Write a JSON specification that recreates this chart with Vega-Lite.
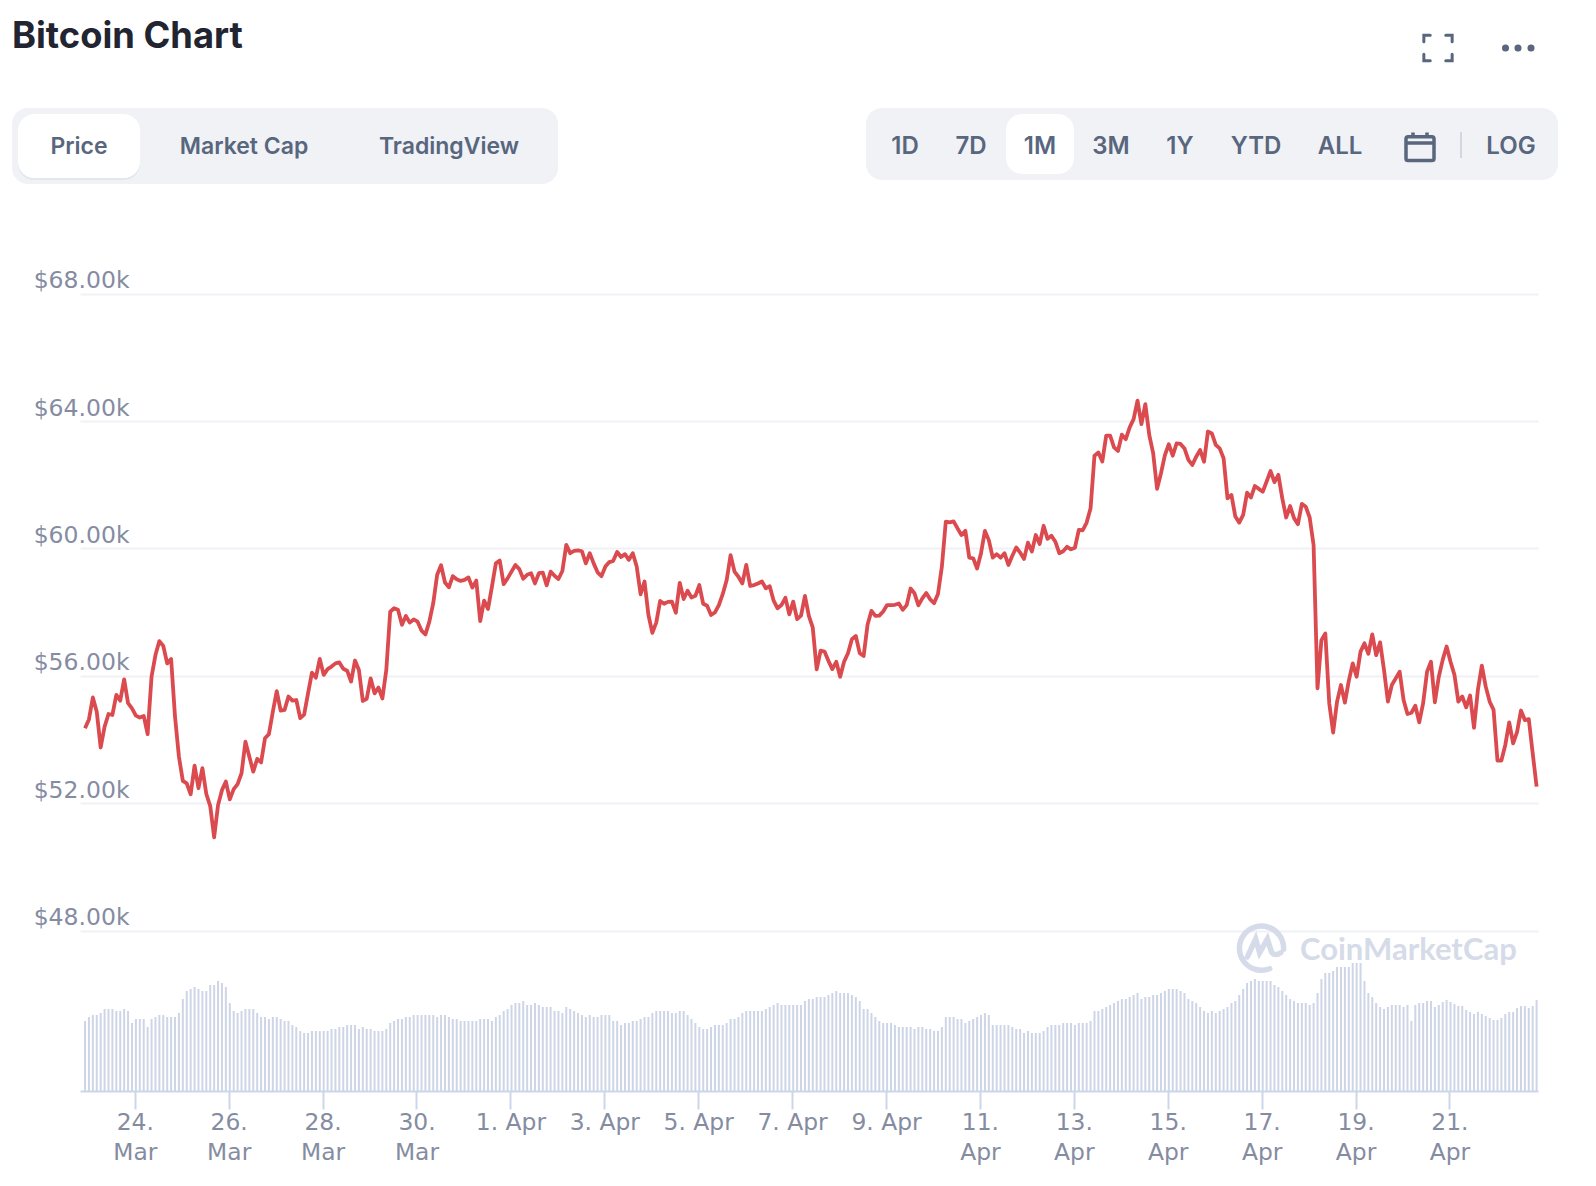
{
"$schema":"https://vega.github.io/schema/vega-lite/v6.json",
"width":1458,"height":798,"autosize":"none",
"padding":{"left":80,"top":293,"right":58,"bottom":95},
"background":"white","view":{"stroke":null},
"datasets":{
"ui":[
{"kind":"title","item":"Bitcoin Chart","col":1,"row":1},
{"kind":"panel","item":"chart type tabs","col":1,"col2":7,"row":2,"row2":10},
{"kind":"panel","item":"range buttons","col":8,"col2":27,"row":2,"row2":9},
{"kind":"shadow","item":"Price selected shadow","col":2,"col2":4,"row":3,"row2":9},
{"kind":"pill","item":"Price selected","col":2,"col2":4,"row":3,"row2":8},
{"kind":"pill","item":"1M selected","col":11,"col2":13,"row":3,"row2":7},
{"kind":"tab","item":"Price","col":3,"row":5},
{"kind":"tab","item":"Market Cap","col":5,"row":5},
{"kind":"tab","item":"TradingView","col":6,"row":5},
{"kind":"button","item":"1D","col":9,"row":5},
{"kind":"button","item":"7D","col":10,"row":5},
{"kind":"button","item":"1M","col":12,"row":5},
{"kind":"button","item":"3M","col":14,"row":5},
{"kind":"button","item":"1Y","col":15,"row":5},
{"kind":"button","item":"YTD","col":16,"row":5},
{"kind":"button","item":"ALL","col":19,"row":5},
{"kind":"button","item":"LOG","col":24,"row":5},
{"kind":"calendar","item":"calendar","col":20,"row":5},
{"kind":"separator","item":"separator","col":22,"row":4,"row2":6},
{"kind":"fullscreen","item":"fullscreen","col":21,"row":1},
{"kind":"dot","item":"menu","col":23,"row":1},
{"kind":"dot","item":"menu","col":25,"row":1},
{"kind":"dot","item":"menu","col":26,"row":1},
{"kind":"logo","item":"logo","col":17,"row":11},
{"kind":"wordmark","item":"CoinMarketCap","col":18,"row":12}
],
"chart":[
{"t":"2021-03-22T22:34Z","p":54350,"v":70},
{"t":"2021-03-23T00:34Z","p":54630,"v":74},
{"t":"2021-03-23T02:34Z","p":55320,"v":76},
{"t":"2021-03-23T04:34Z","p":54870,"v":76},
{"t":"2021-03-23T06:34Z","p":53750,"v":78},
{"t":"2021-03-23T08:34Z","p":54400,"v":82},
{"t":"2021-03-23T10:34Z","p":54800,"v":82},
{"t":"2021-03-23T12:34Z","p":54770,"v":82},
{"t":"2021-03-23T14:34Z","p":55400,"v":80},
{"t":"2021-03-23T16:34Z","p":55220,"v":80},
{"t":"2021-03-23T18:34Z","p":55890,"v":82},
{"t":"2021-03-23T20:34Z","p":55140,"v":80},
{"t":"2021-03-23T22:34Z","p":54980,"v":68},
{"t":"2021-03-24T00:34Z","p":54750,"v":72},
{"t":"2021-03-24T02:34Z","p":54690,"v":72},
{"t":"2021-03-24T04:34Z","p":54740,"v":72},
{"t":"2021-03-24T06:34Z","p":54170,"v":64},
{"t":"2021-03-24T08:34Z","p":55970,"v":72},
{"t":"2021-03-24T10:34Z","p":56650,"v":74},
{"t":"2021-03-24T12:34Z","p":57090,"v":76},
{"t":"2021-03-24T14:34Z","p":56940,"v":76},
{"t":"2021-03-24T16:34Z","p":56390,"v":74},
{"t":"2021-03-24T18:34Z","p":56530,"v":74},
{"t":"2021-03-24T20:34Z","p":54720,"v":74},
{"t":"2021-03-24T22:34Z","p":53460,"v":78},
{"t":"2021-03-25T00:34Z","p":52700,"v":92},
{"t":"2021-03-25T02:34Z","p":52620,"v":100},
{"t":"2021-03-25T04:34Z","p":52280,"v":102},
{"t":"2021-03-25T06:34Z","p":53180,"v":104},
{"t":"2021-03-25T08:34Z","p":52470,"v":102},
{"t":"2021-03-25T10:34Z","p":53100,"v":100},
{"t":"2021-03-25T12:34Z","p":52290,"v":100},
{"t":"2021-03-25T14:34Z","p":51910,"v":106},
{"t":"2021-03-25T16:34Z","p":50930,"v":106},
{"t":"2021-03-25T18:34Z","p":51940,"v":110},
{"t":"2021-03-25T20:34Z","p":52410,"v":108},
{"t":"2021-03-25T22:34Z","p":52680,"v":104},
{"t":"2021-03-26T00:34Z","p":52120,"v":88},
{"t":"2021-03-26T02:34Z","p":52440,"v":80},
{"t":"2021-03-26T04:34Z","p":52600,"v":78},
{"t":"2021-03-26T06:34Z","p":52940,"v":80},
{"t":"2021-03-26T08:34Z","p":53930,"v":82},
{"t":"2021-03-26T10:34Z","p":53460,"v":82},
{"t":"2021-03-26T12:34Z","p":52990,"v":82},
{"t":"2021-03-26T14:34Z","p":53390,"v":78},
{"t":"2021-03-26T16:34Z","p":53280,"v":74},
{"t":"2021-03-26T18:34Z","p":54040,"v":74},
{"t":"2021-03-26T20:34Z","p":54170,"v":72},
{"t":"2021-03-26T22:34Z","p":54870,"v":74},
{"t":"2021-03-27T00:34Z","p":55520,"v":74},
{"t":"2021-03-27T02:34Z","p":54910,"v":72},
{"t":"2021-03-27T04:34Z","p":54930,"v":70},
{"t":"2021-03-27T06:34Z","p":55350,"v":70},
{"t":"2021-03-27T08:34Z","p":55220,"v":66},
{"t":"2021-03-27T10:34Z","p":55240,"v":64},
{"t":"2021-03-27T12:34Z","p":54670,"v":60},
{"t":"2021-03-27T14:34Z","p":54780,"v":58},
{"t":"2021-03-27T16:34Z","p":55450,"v":58},
{"t":"2021-03-27T18:34Z","p":56100,"v":60},
{"t":"2021-03-27T20:34Z","p":55940,"v":60},
{"t":"2021-03-27T22:34Z","p":56530,"v":60},
{"t":"2021-03-28T00:34Z","p":56030,"v":60},
{"t":"2021-03-28T02:34Z","p":56210,"v":60},
{"t":"2021-03-28T04:34Z","p":56290,"v":62},
{"t":"2021-03-28T06:34Z","p":56390,"v":62},
{"t":"2021-03-28T08:34Z","p":56420,"v":64},
{"t":"2021-03-28T10:34Z","p":56220,"v":64},
{"t":"2021-03-28T12:34Z","p":56160,"v":66},
{"t":"2021-03-28T14:34Z","p":55820,"v":66},
{"t":"2021-03-28T16:34Z","p":56480,"v":66},
{"t":"2021-03-28T18:34Z","p":56180,"v":62},
{"t":"2021-03-28T20:34Z","p":55210,"v":64},
{"t":"2021-03-28T22:34Z","p":55280,"v":62},
{"t":"2021-03-29T00:34Z","p":55920,"v":62},
{"t":"2021-03-29T02:34Z","p":55450,"v":60},
{"t":"2021-03-29T04:34Z","p":55630,"v":60},
{"t":"2021-03-29T06:34Z","p":55290,"v":60},
{"t":"2021-03-29T08:34Z","p":56180,"v":62},
{"t":"2021-03-29T10:34Z","p":58010,"v":68},
{"t":"2021-03-29T12:34Z","p":58120,"v":70},
{"t":"2021-03-29T14:34Z","p":58070,"v":72},
{"t":"2021-03-29T16:34Z","p":57600,"v":72},
{"t":"2021-03-29T18:34Z","p":57880,"v":74},
{"t":"2021-03-29T20:34Z","p":57670,"v":74},
{"t":"2021-03-29T22:34Z","p":57770,"v":76},
{"t":"2021-03-30T00:34Z","p":57700,"v":76},
{"t":"2021-03-30T02:34Z","p":57420,"v":76},
{"t":"2021-03-30T04:34Z","p":57300,"v":76},
{"t":"2021-03-30T06:34Z","p":57700,"v":76},
{"t":"2021-03-30T08:34Z","p":58280,"v":76},
{"t":"2021-03-30T10:34Z","p":59170,"v":74},
{"t":"2021-03-30T12:34Z","p":59470,"v":76},
{"t":"2021-03-30T14:34Z","p":58930,"v":76},
{"t":"2021-03-30T16:34Z","p":58780,"v":74},
{"t":"2021-03-30T18:34Z","p":59130,"v":72},
{"t":"2021-03-30T20:34Z","p":59030,"v":72},
{"t":"2021-03-30T22:34Z","p":58980,"v":70},
{"t":"2021-03-31T00:34Z","p":59010,"v":70},
{"t":"2021-03-31T02:34Z","p":59090,"v":70},
{"t":"2021-03-31T04:34Z","p":58770,"v":70},
{"t":"2021-03-31T06:34Z","p":58990,"v":70},
{"t":"2021-03-31T08:34Z","p":57720,"v":72},
{"t":"2021-03-31T10:34Z","p":58360,"v":72},
{"t":"2021-03-31T12:34Z","p":58100,"v":72},
{"t":"2021-03-31T14:34Z","p":58800,"v":70},
{"t":"2021-03-31T16:34Z","p":59530,"v":74},
{"t":"2021-03-31T18:34Z","p":59620,"v":76},
{"t":"2021-03-31T20:34Z","p":58880,"v":80},
{"t":"2021-03-31T22:34Z","p":59060,"v":82},
{"t":"2021-04-01T00:34Z","p":59270,"v":86},
{"t":"2021-04-01T02:34Z","p":59480,"v":88},
{"t":"2021-04-01T04:34Z","p":59350,"v":88},
{"t":"2021-04-01T06:34Z","p":59050,"v":90},
{"t":"2021-04-01T08:34Z","p":59170,"v":86},
{"t":"2021-04-01T10:34Z","p":59220,"v":86},
{"t":"2021-04-01T12:34Z","p":58900,"v":88},
{"t":"2021-04-01T14:34Z","p":59220,"v":86},
{"t":"2021-04-01T16:34Z","p":59240,"v":84},
{"t":"2021-04-01T18:34Z","p":58840,"v":84},
{"t":"2021-04-01T20:34Z","p":59270,"v":84},
{"t":"2021-04-01T22:34Z","p":59140,"v":80},
{"t":"2021-04-02T00:34Z","p":59040,"v":80},
{"t":"2021-04-02T02:34Z","p":59290,"v":78},
{"t":"2021-04-02T04:34Z","p":60110,"v":84},
{"t":"2021-04-02T06:34Z","p":59850,"v":82},
{"t":"2021-04-02T08:34Z","p":59920,"v":80},
{"t":"2021-04-02T10:34Z","p":59940,"v":78},
{"t":"2021-04-02T12:34Z","p":59910,"v":76},
{"t":"2021-04-02T14:34Z","p":59530,"v":74},
{"t":"2021-04-02T16:34Z","p":59850,"v":76},
{"t":"2021-04-02T18:34Z","p":59530,"v":74},
{"t":"2021-04-02T20:34Z","p":59250,"v":74},
{"t":"2021-04-02T22:34Z","p":59130,"v":76},
{"t":"2021-04-03T00:34Z","p":59430,"v":76},
{"t":"2021-04-03T02:34Z","p":59570,"v":76},
{"t":"2021-04-03T04:34Z","p":59610,"v":70},
{"t":"2021-04-03T06:34Z","p":59890,"v":70},
{"t":"2021-04-03T08:34Z","p":59730,"v":66},
{"t":"2021-04-03T10:34Z","p":59820,"v":68},
{"t":"2021-04-03T12:34Z","p":59640,"v":68},
{"t":"2021-04-03T14:34Z","p":59850,"v":70},
{"t":"2021-04-03T16:34Z","p":59430,"v":70},
{"t":"2021-04-03T18:34Z","p":58560,"v":72},
{"t":"2021-04-03T20:34Z","p":58960,"v":74},
{"t":"2021-04-03T22:34Z","p":57910,"v":74},
{"t":"2021-04-04T00:34Z","p":57350,"v":78},
{"t":"2021-04-04T02:34Z","p":57670,"v":80},
{"t":"2021-04-04T04:34Z","p":58350,"v":80},
{"t":"2021-04-04T06:34Z","p":58260,"v":80},
{"t":"2021-04-04T08:34Z","p":58320,"v":80},
{"t":"2021-04-04T10:34Z","p":58330,"v":78},
{"t":"2021-04-04T12:34Z","p":57980,"v":78},
{"t":"2021-04-04T14:34Z","p":58920,"v":80},
{"t":"2021-04-04T16:34Z","p":58410,"v":80},
{"t":"2021-04-04T18:34Z","p":58670,"v":76},
{"t":"2021-04-04T20:34Z","p":58460,"v":72},
{"t":"2021-04-04T22:34Z","p":58510,"v":68},
{"t":"2021-04-05T00:34Z","p":58850,"v":64},
{"t":"2021-04-05T02:34Z","p":58260,"v":62},
{"t":"2021-04-05T04:34Z","p":58200,"v":62},
{"t":"2021-04-05T06:34Z","p":57910,"v":64},
{"t":"2021-04-05T08:34Z","p":57990,"v":66},
{"t":"2021-04-05T10:34Z","p":58220,"v":66},
{"t":"2021-04-05T12:34Z","p":58570,"v":66},
{"t":"2021-04-05T14:34Z","p":59010,"v":68},
{"t":"2021-04-05T16:34Z","p":59790,"v":72},
{"t":"2021-04-05T18:34Z","p":59270,"v":72},
{"t":"2021-04-05T20:34Z","p":59110,"v":74},
{"t":"2021-04-05T22:34Z","p":58900,"v":78},
{"t":"2021-04-06T00:34Z","p":59480,"v":80},
{"t":"2021-04-06T02:34Z","p":58820,"v":80},
{"t":"2021-04-06T04:34Z","p":58850,"v":80},
{"t":"2021-04-06T06:34Z","p":58900,"v":80},
{"t":"2021-04-06T08:34Z","p":58960,"v":80},
{"t":"2021-04-06T10:34Z","p":58750,"v":82},
{"t":"2021-04-06T12:34Z","p":58810,"v":84},
{"t":"2021-04-06T14:34Z","p":58360,"v":86},
{"t":"2021-04-06T16:34Z","p":58120,"v":88},
{"t":"2021-04-06T18:34Z","p":58220,"v":86},
{"t":"2021-04-06T20:34Z","p":58450,"v":86},
{"t":"2021-04-06T22:34Z","p":57930,"v":86},
{"t":"2021-04-07T00:34Z","p":58330,"v":86},
{"t":"2021-04-07T02:34Z","p":57780,"v":86},
{"t":"2021-04-07T04:34Z","p":57890,"v":86},
{"t":"2021-04-07T06:34Z","p":58510,"v":90},
{"t":"2021-04-07T08:34Z","p":57880,"v":92},
{"t":"2021-04-07T10:34Z","p":57510,"v":92},
{"t":"2021-04-07T12:34Z","p":56200,"v":94},
{"t":"2021-04-07T14:34Z","p":56790,"v":94},
{"t":"2021-04-07T16:34Z","p":56760,"v":94},
{"t":"2021-04-07T18:34Z","p":56470,"v":96},
{"t":"2021-04-07T20:34Z","p":56210,"v":98},
{"t":"2021-04-07T22:34Z","p":56440,"v":100},
{"t":"2021-04-08T00:34Z","p":55970,"v":98},
{"t":"2021-04-08T02:34Z","p":56440,"v":98},
{"t":"2021-04-08T04:34Z","p":56710,"v":98},
{"t":"2021-04-08T06:34Z","p":57150,"v":96},
{"t":"2021-04-08T08:34Z","p":57250,"v":94},
{"t":"2021-04-08T10:34Z","p":56710,"v":90},
{"t":"2021-04-08T12:34Z","p":56620,"v":82},
{"t":"2021-04-08T14:34Z","p":57600,"v":82},
{"t":"2021-04-08T16:34Z","p":58040,"v":78},
{"t":"2021-04-08T18:34Z","p":57880,"v":74},
{"t":"2021-04-08T20:34Z","p":57890,"v":70},
{"t":"2021-04-08T22:34Z","p":58020,"v":68},
{"t":"2021-04-09T00:34Z","p":58220,"v":68},
{"t":"2021-04-09T02:34Z","p":58220,"v":68},
{"t":"2021-04-09T04:34Z","p":58230,"v":66},
{"t":"2021-04-09T06:34Z","p":58270,"v":64},
{"t":"2021-04-09T08:34Z","p":58070,"v":64},
{"t":"2021-04-09T10:34Z","p":58220,"v":64},
{"t":"2021-04-09T12:34Z","p":58740,"v":64},
{"t":"2021-04-09T14:34Z","p":58590,"v":62},
{"t":"2021-04-09T16:34Z","p":58210,"v":64},
{"t":"2021-04-09T18:34Z","p":58430,"v":64},
{"t":"2021-04-09T20:34Z","p":58600,"v":62},
{"t":"2021-04-09T22:34Z","p":58400,"v":62},
{"t":"2021-04-10T00:34Z","p":58280,"v":60},
{"t":"2021-04-10T02:34Z","p":58570,"v":60},
{"t":"2021-04-10T04:34Z","p":59430,"v":64},
{"t":"2021-04-10T06:34Z","p":60840,"v":74},
{"t":"2021-04-10T08:34Z","p":60820,"v":74},
{"t":"2021-04-10T10:34Z","p":60850,"v":74},
{"t":"2021-04-10T12:34Z","p":60630,"v":72},
{"t":"2021-04-10T14:34Z","p":60420,"v":72},
{"t":"2021-04-10T16:34Z","p":60550,"v":68},
{"t":"2021-04-10T18:34Z","p":59710,"v":70},
{"t":"2021-04-10T20:34Z","p":59690,"v":72},
{"t":"2021-04-10T22:34Z","p":59370,"v":74},
{"t":"2021-04-11T00:34Z","p":59850,"v":76},
{"t":"2021-04-11T02:34Z","p":60550,"v":78},
{"t":"2021-04-11T04:34Z","p":60260,"v":76},
{"t":"2021-04-11T06:34Z","p":59710,"v":66},
{"t":"2021-04-11T08:34Z","p":59820,"v":66},
{"t":"2021-04-11T10:34Z","p":59710,"v":66},
{"t":"2021-04-11T12:34Z","p":59850,"v":66},
{"t":"2021-04-11T14:34Z","p":59480,"v":66},
{"t":"2021-04-11T16:34Z","p":59770,"v":64},
{"t":"2021-04-11T18:34Z","p":60030,"v":62},
{"t":"2021-04-11T20:34Z","p":59870,"v":62},
{"t":"2021-04-11T22:34Z","p":59670,"v":58},
{"t":"2021-04-12T00:34Z","p":60180,"v":60},
{"t":"2021-04-12T02:34Z","p":59900,"v":58},
{"t":"2021-04-12T04:34Z","p":60420,"v":58},
{"t":"2021-04-12T06:34Z","p":60140,"v":58},
{"t":"2021-04-12T08:34Z","p":60710,"v":60},
{"t":"2021-04-12T10:34Z","p":60300,"v":64},
{"t":"2021-04-12T12:34Z","p":60400,"v":66},
{"t":"2021-04-12T14:34Z","p":60210,"v":66},
{"t":"2021-04-12T16:34Z","p":59850,"v":66},
{"t":"2021-04-12T18:34Z","p":59910,"v":68},
{"t":"2021-04-12T20:34Z","p":60050,"v":68},
{"t":"2021-04-12T22:34Z","p":59970,"v":68},
{"t":"2021-04-13T00:34Z","p":60020,"v":66},
{"t":"2021-04-13T02:34Z","p":60580,"v":68},
{"t":"2021-04-13T04:34Z","p":60570,"v":68},
{"t":"2021-04-13T06:34Z","p":60810,"v":68},
{"t":"2021-04-13T08:34Z","p":61260,"v":70},
{"t":"2021-04-13T10:34Z","p":62910,"v":80},
{"t":"2021-04-13T12:34Z","p":63010,"v":80},
{"t":"2021-04-13T14:34Z","p":62730,"v":82},
{"t":"2021-04-13T16:34Z","p":63540,"v":84},
{"t":"2021-04-13T18:34Z","p":63540,"v":86},
{"t":"2021-04-13T20:34Z","p":63170,"v":88},
{"t":"2021-04-13T22:34Z","p":63060,"v":90},
{"t":"2021-04-14T00:34Z","p":63570,"v":92},
{"t":"2021-04-14T02:34Z","p":63430,"v":92},
{"t":"2021-04-14T04:34Z","p":63800,"v":94},
{"t":"2021-04-14T06:34Z","p":64060,"v":96},
{"t":"2021-04-14T08:34Z","p":64640,"v":98},
{"t":"2021-04-14T10:34Z","p":63900,"v":92},
{"t":"2021-04-14T12:34Z","p":64530,"v":94},
{"t":"2021-04-14T14:34Z","p":63560,"v":94},
{"t":"2021-04-14T16:34Z","p":62990,"v":96},
{"t":"2021-04-14T18:34Z","p":61870,"v":96},
{"t":"2021-04-14T20:34Z","p":62360,"v":98},
{"t":"2021-04-14T22:34Z","p":62930,"v":100},
{"t":"2021-04-15T00:34Z","p":63270,"v":102},
{"t":"2021-04-15T02:34Z","p":62910,"v":102},
{"t":"2021-04-15T04:34Z","p":63300,"v":102},
{"t":"2021-04-15T06:34Z","p":63280,"v":100},
{"t":"2021-04-15T08:34Z","p":63140,"v":98},
{"t":"2021-04-15T10:34Z","p":62780,"v":92},
{"t":"2021-04-15T12:34Z","p":62620,"v":90},
{"t":"2021-04-15T14:34Z","p":62880,"v":88},
{"t":"2021-04-15T16:34Z","p":63090,"v":84},
{"t":"2021-04-15T18:34Z","p":62720,"v":80},
{"t":"2021-04-15T20:34Z","p":63670,"v":78},
{"t":"2021-04-15T22:34Z","p":63610,"v":80},
{"t":"2021-04-16T00:34Z","p":63250,"v":78},
{"t":"2021-04-16T02:34Z","p":63140,"v":80},
{"t":"2021-04-16T04:34Z","p":62830,"v":82},
{"t":"2021-04-16T06:34Z","p":61570,"v":84},
{"t":"2021-04-16T08:34Z","p":61680,"v":88},
{"t":"2021-04-16T10:34Z","p":61000,"v":90},
{"t":"2021-04-16T12:34Z","p":60810,"v":96},
{"t":"2021-04-16T14:34Z","p":61050,"v":102},
{"t":"2021-04-16T16:34Z","p":61750,"v":108},
{"t":"2021-04-16T18:34Z","p":61600,"v":110},
{"t":"2021-04-16T20:34Z","p":61960,"v":112},
{"t":"2021-04-16T22:34Z","p":61870,"v":110},
{"t":"2021-04-17T00:34Z","p":61780,"v":110},
{"t":"2021-04-17T02:34Z","p":62100,"v":110},
{"t":"2021-04-17T04:34Z","p":62430,"v":110},
{"t":"2021-04-17T06:34Z","p":62080,"v":106},
{"t":"2021-04-17T08:34Z","p":62310,"v":104},
{"t":"2021-04-17T10:34Z","p":61570,"v":100},
{"t":"2021-04-17T12:34Z","p":60970,"v":96},
{"t":"2021-04-17T14:34Z","p":61330,"v":92},
{"t":"2021-04-17T16:34Z","p":60950,"v":90},
{"t":"2021-04-17T18:34Z","p":60760,"v":88},
{"t":"2021-04-17T20:34Z","p":61400,"v":88},
{"t":"2021-04-17T22:34Z","p":61310,"v":88},
{"t":"2021-04-18T00:34Z","p":60970,"v":86},
{"t":"2021-04-18T02:34Z","p":60110,"v":88},
{"t":"2021-04-18T04:34Z","p":55610,"v":98},
{"t":"2021-04-18T06:34Z","p":57120,"v":112},
{"t":"2021-04-18T08:34Z","p":57330,"v":118},
{"t":"2021-04-18T10:34Z","p":55140,"v":118},
{"t":"2021-04-18T12:34Z","p":54220,"v":120},
{"t":"2021-04-18T14:34Z","p":55190,"v":124},
{"t":"2021-04-18T16:34Z","p":55710,"v":124},
{"t":"2021-04-18T18:34Z","p":55160,"v":124},
{"t":"2021-04-18T20:34Z","p":55840,"v":124},
{"t":"2021-04-18T22:34Z","p":56390,"v":128},
{"t":"2021-04-19T00:34Z","p":55970,"v":128},
{"t":"2021-04-19T02:34Z","p":56760,"v":128},
{"t":"2021-04-19T04:34Z","p":57020,"v":110},
{"t":"2021-04-19T06:34Z","p":56690,"v":98},
{"t":"2021-04-19T08:34Z","p":57300,"v":94},
{"t":"2021-04-19T10:34Z","p":56650,"v":88},
{"t":"2021-04-19T12:34Z","p":57050,"v":84},
{"t":"2021-04-19T14:34Z","p":56180,"v":82},
{"t":"2021-04-19T16:34Z","p":55190,"v":84},
{"t":"2021-04-19T18:34Z","p":55710,"v":86},
{"t":"2021-04-19T20:34Z","p":55920,"v":86},
{"t":"2021-04-19T22:34Z","p":56130,"v":86},
{"t":"2021-04-20T00:34Z","p":55240,"v":84},
{"t":"2021-04-20T02:34Z","p":54800,"v":86},
{"t":"2021-04-20T04:34Z","p":54840,"v":70},
{"t":"2021-04-20T06:34Z","p":55060,"v":86},
{"t":"2021-04-20T08:34Z","p":54540,"v":88},
{"t":"2021-04-20T10:34Z","p":55140,"v":88},
{"t":"2021-04-20T12:34Z","p":56130,"v":90},
{"t":"2021-04-20T14:34Z","p":56440,"v":90},
{"t":"2021-04-20T16:34Z","p":55170,"v":84},
{"t":"2021-04-20T18:34Z","p":55970,"v":86},
{"t":"2021-04-20T20:34Z","p":56500,"v":89},
{"t":"2021-04-20T22:34Z","p":56920,"v":91},
{"t":"2021-04-21T00:34Z","p":56440,"v":89},
{"t":"2021-04-21T02:34Z","p":56030,"v":87},
{"t":"2021-04-21T04:34Z","p":55190,"v":85},
{"t":"2021-04-21T06:34Z","p":55350,"v":85},
{"t":"2021-04-21T08:34Z","p":55010,"v":81},
{"t":"2021-04-21T10:34Z","p":55380,"v":79},
{"t":"2021-04-21T12:34Z","p":54370,"v":77},
{"t":"2021-04-21T14:34Z","p":55560,"v":79},
{"t":"2021-04-21T16:34Z","p":56320,"v":77},
{"t":"2021-04-21T18:34Z","p":55660,"v":75},
{"t":"2021-04-21T20:34Z","p":55190,"v":73},
{"t":"2021-04-21T22:34Z","p":54930,"v":71},
{"t":"2021-04-22T00:34Z","p":53340,"v":71},
{"t":"2021-04-22T02:34Z","p":53340,"v":73},
{"t":"2021-04-22T04:34Z","p":53830,"v":77},
{"t":"2021-04-22T06:34Z","p":54540,"v":79},
{"t":"2021-04-22T08:34Z","p":53880,"v":79},
{"t":"2021-04-22T10:34Z","p":54230,"v":83},
{"t":"2021-04-22T12:34Z","p":54910,"v":85},
{"t":"2021-04-22T14:34Z","p":54610,"v":85},
{"t":"2021-04-22T16:34Z","p":54640,"v":83},
{"t":"2021-04-22T18:34Z","p":53570,"v":85},
{"t":"2021-04-22T20:34Z","p":52520,"v":91}
]},
"resolve":{"scale":{"x":"independent","y":"independent"}},
"layer":[
{
"data":{"name":"chart"},
"mark":{"type":"bar","size":2,"color":"#cdd5e6"},
"encoding":{
"x":{"field":"t","type":"temporal","axis":null,"scale":{"type":"utc","padding":0,"domain":[1616443200000,1619126208000]}},
"y":{"field":"v","type":"quantitative","axis":null,"stack":null,"scale":{"domain":[0,798],"nice":false}}
}
},
{
"data":{"name":"chart"},
"mark":{"type":"line","color":"#da4a4e","strokeWidth":3.8,"strokeJoin":"round"},
"encoding":{
"x":{"field":"t","type":"temporal","title":null,
"scale":{"type":"utc","domain":[1616443200000,1619126208000]},
"axis":{"values":[1616544000000,1616716800000,1616889600000,1617062400000,1617235200000,1617408000000,1617580800000,1617753600000,1617926400000,1618099200000,1618272000000,1618444800000,1618617600000,1618790400000,1618963200000],
"labelExpr":"utcmonth(datum.value)==2 ? [utcdate(datum.value)+'.','Mar'] : utcdate(datum.value)<10 ? utcdate(datum.value)+'. Apr' : [utcdate(datum.value)+'.','Apr']",
"grid":false,"domainColor":"#ccd6eb","domainWidth":2,"tickColor":"#ccd6eb","tickWidth":2,"tickSize":18,
"labelFont":"DejaVu Sans","labelFontSize":23.4,"labelColor":"#858ca2","labelPadding":2,"labelLineHeight":30,"labelOverlap":false,"labelFlush":false,"labelBound":false}},
"y":{"field":"p","type":"quantitative","title":null,
"scale":{"domain":[42964,68019],"nice":false,"zero":false},
"axis":{"values":[48000,52000,56000,60000,64000,68000],
"labelExpr":"'$'+format(datum.value/1000,'.2f')+'k'",
"grid":true,"gridColor":"#f0f1f6","gridWidth":2,"domain":false,"ticks":false,
"labelFont":"DejaVu Sans","labelFontSize":23.5,"labelColor":"#858ca2","labelAlign":"right","labelBaseline":"bottom","labelPadding":-49,"labelOffset":-1,"labelOverlap":false,"labelBound":false}}
}
},
{
"data":{"name":"ui"},
"encoding":{
"x":{"field":"col","type":"quantitative","axis":null,
"scale":{"zero":false,"nice":false,
"domain":[1,2,3,4,5,6,7,8,9,10,11,12,13,14,15,16,17,18,19,20,21,22,23,24,25,26,27],
"range":[-68,-62,-1,60,164,369,478,786,825,891,926,960,994,1031,1100,1176,1181.5,1220,1260,1340,1358,1381,1425.5,1431,1438,1451,1478]}},
"y":{"field":"row","type":"quantitative","axis":null,
"scale":{"zero":false,"nice":false,
"domain":[1,2,3,4,5,6,7,8,9,10,11,12],
"range":[-245,-185,-179,-161,-146.5,-135,-119,-115,-113,-109,655,667]}}
},
"layer":[
{"transform":[{"filter":"datum.kind=='panel'"}],"mark":{"type":"rect","color":"#f0f2f6","cornerRadius":16},"encoding":{"x2":{"field":"col2"},"y2":{"field":"row2"}}},
{"transform":[{"filter":"datum.kind=='shadow'"}],"mark":{"type":"rect","color":"#e3e6ed","cornerRadius":16},"encoding":{"x2":{"field":"col2"},"y2":{"field":"row2"}}},
{"transform":[{"filter":"datum.kind=='pill'"}],"mark":{"type":"rect","color":"#ffffff","cornerRadius":16},"encoding":{"x2":{"field":"col2"},"y2":{"field":"row2"}}},
{"transform":[{"filter":"datum.kind=='title'"}],"mark":{"type":"text","font":"Inter","fontSize":36.3,"fontWeight":700,"color":"#222531","align":"left","baseline":"alphabetic"},"encoding":{"text":{"field":"item"}}},
{"transform":[{"filter":"datum.kind=='tab'"}],"mark":{"type":"text","font":"Inter","fontSize":23,"fontWeight":600,"color":"#58667e","align":"center","baseline":"middle"},"encoding":{"text":{"field":"item"}}},
{"transform":[{"filter":"datum.kind=='button'"}],"mark":{"type":"text","font":"Inter","fontSize":24,"fontWeight":600,"color":"#58667e","align":"center","baseline":"middle"},"encoding":{"text":{"field":"item"}}},
{"transform":[{"filter":"datum.kind=='separator'"}],"mark":{"type":"rule","color":"#cfd6e4","strokeWidth":2},"encoding":{"y2":{"field":"row2"}}},
{"transform":[{"filter":"datum.kind=='calendar'"}],"mark":{"type":"point","filled":false,"stroke":"#58667e","strokeWidth":3.5,"size":784,"opacity":1,"shape":"M-0.85,-0.7 H0.85 Q1,-0.7 1,-0.55 V0.85 Q1,1 0.85,1 H-0.85 Q-1,1 -1,0.85 V-0.55 Q-1,-0.7 -0.85,-0.7 Z M-1,-0.25 H1 M-0.5,-1 V-0.7 M0.5,-1 V-0.7"}},
{"transform":[{"filter":"datum.kind=='fullscreen'"}],"mark":{"type":"point","filled":false,"stroke":"#58667e","strokeWidth":3,"strokeCap":"round","size":800,"opacity":1,"shape":"M-1,-0.45 V-0.9 H-0.55 M0.55,-0.9 H1 V-0.45 M1,0.45 V0.9 H0.55 M-0.55,0.9 H-1 V0.45"}},
{"transform":[{"filter":"datum.kind=='dot'"}],"mark":{"type":"point","filled":true,"color":"#58667e","size":50,"opacity":1,"shape":"circle"}},
{"transform":[{"filter":"datum.kind=='logo'"}],"mark":{"type":"point","filled":false,"stroke":"#d5dbe8","strokeWidth":5.5,"strokeCap":"round","size":2209,"opacity":1,"shape":"M0.35,0.88 A0.94,0.94 0 1 1 0.94,0.05 M-0.6,0.38 L-0.25,-0.38 L-0.08,0.2 L0.25,-0.38 L0.42,0.15 Q0.55,0.38 0.82,0.2"}},
{"transform":[{"filter":"datum.kind=='wordmark'"}],"mark":{"type":"text","font":"Lato","fontSize":31,"fontWeight":700,"color":"#d5dbe8","align":"left","baseline":"alphabetic"},"encoding":{"text":{"field":"item"}}}
]
}
]
}
